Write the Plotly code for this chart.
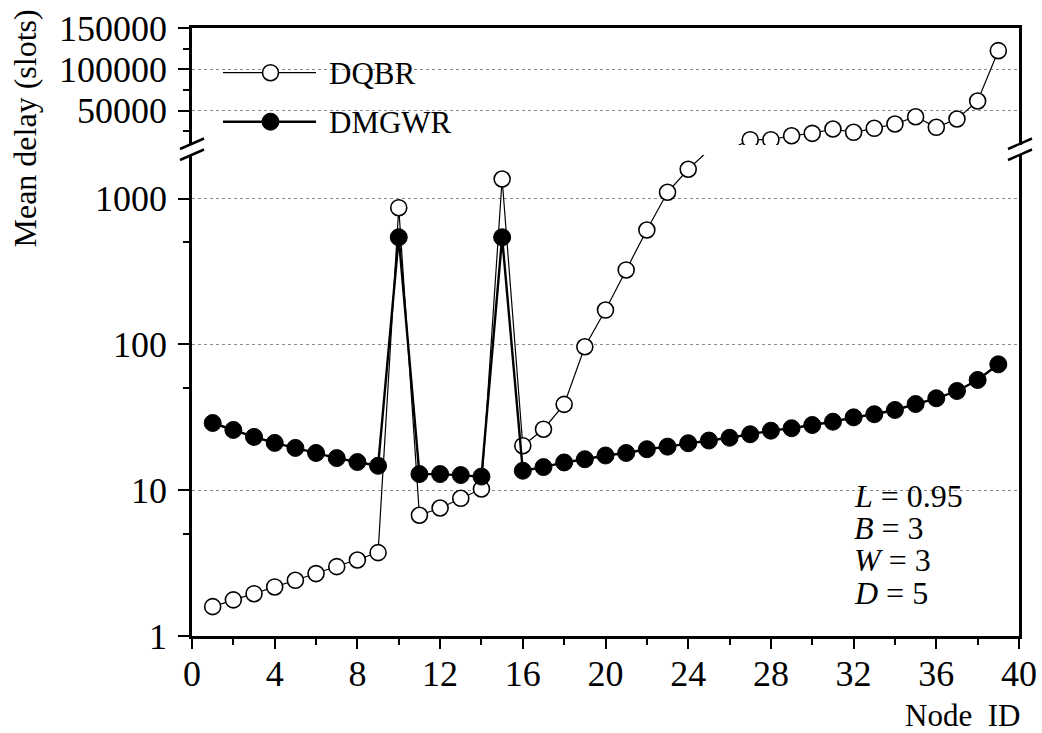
import plotly.graph_objects as go

# ---------------- data ----------------
node_ids = list(range(1, 40))
dqbr = [1.59, 1.77, 1.95, 2.17, 2.41, 2.68, 2.99, 3.32, 3.73, 866,
        6.73, 7.55, 8.80, 10.2, 1363,
        20.2, 26.2, 38.8, 96.4, 172, 324, 609, 1105, 1589, 2150, 3000,
        14900, 14900, 19700, 22600, 27850, 23850, 28700, 33900, 42700,
        29900, 39950, 61700, 122600]
dmgwr = [28.9, 25.9, 23.2, 21.1, 19.5, 18.0, 16.6, 15.6, 14.7, 543,
         12.9, 12.9, 12.7, 12.4, 543,
         13.6, 14.4, 15.5, 16.3, 17.3, 18.0, 19.1, 19.9, 21.0, 21.9, 22.9,
         24.2, 25.6, 26.6, 28.0, 29.5, 31.6, 33.2, 35.5, 39.0, 42.7, 47.9,
         57.0, 73.0]
x_ticks = list(range(0, 41, 4))
x_minor = list(range(2, 40, 4))
low_ticks = [1, 10, 100, 1000]
low_minor = [5, 50, 500]
up_ticks = [50000, 100000, 150000]
up_minor = [25000, 75000, 125000]
series_names = ["DQBR", "DMGWR"]
params = ["<i>L</i> = 0.95", "<i>B</i> = 3", "<i>W</i> = 3", "<i>D</i> = 5"]

# ---------------- geometry ----------------
W, H = 1042, 733
L, R, T, B = 192, 1019, 28, 636
LOW_TOP = 155.0
UP_BOT = 145.0
DEC_PX = 145.8
FONT = "Liberation Serif"


def px(x):
    return (x - L) / (R - L)


def py(y):
    return (B - y) / (B - T)


low_range = [0, (B - LOW_TOP) / DEC_PX]
up_range = [8500, 150000]
low_max = 10 ** low_range[1]

fig = go.Figure()

dq_line = dict(color="black", width=1.2)
dm_line = dict(color="black", width=2.4)
DQ_SIZE, DM_SIZE = 16, 17


def dq_marker(sizes):
    return dict(symbol="circle", size=sizes, color="white", opacity=1,
                line=dict(color="black", width=1.6))


def dm_marker(sizes):
    return dict(symbol="circle", size=sizes, color="black", opacity=1,
                line=dict(color="black", width=1))


# lower (log) panel
fig.add_trace(go.Scatter(
    x=node_ids, y=dqbr, mode="lines+markers", line=dq_line,
    marker=dq_marker([DQ_SIZE if v <= low_max else 0 for v in dqbr]),
    xaxis="x", yaxis="y", showlegend=False, name=series_names[0]))
fig.add_trace(go.Scatter(
    x=node_ids, y=dmgwr, mode="lines+markers", line=dm_line,
    marker=dm_marker([DM_SIZE if v <= low_max else 0 for v in dmgwr]),
    xaxis="x", yaxis="y", showlegend=False, name=series_names[1]))
# upper (linear) panel
fig.add_trace(go.Scatter(
    x=node_ids, y=dqbr, mode="lines+markers", line=dq_line,
    marker=dq_marker([DQ_SIZE if v >= up_range[0] else 0 for v in dqbr]),
    xaxis="x2", yaxis="y2", showlegend=False, name=series_names[0]))

# manual legend on an overlay pixel axis
leg_y = [72.7, 121.7]
for i, (ln, mk) in enumerate([(dq_line, dq_marker(DQ_SIZE)),
                              (dm_line, dm_marker(DM_SIZE))]):
    fig.add_trace(go.Scatter(x=[223, 316], y=[leg_y[i]] * 2, mode="lines",
                             line=ln, xaxis="x3", yaxis="y3",
                             showlegend=False, hoverinfo="skip"))
    fig.add_trace(go.Scatter(x=[270.5], y=[leg_y[i]], mode="markers",
                             marker=mk, xaxis="x3", yaxis="y3",
                             showlegend=False, hoverinfo="skip"))

axis_common = dict(showline=True, linecolor="black", linewidth=2.5,
                   zeroline=False, ticks="outside", tickcolor="black",
                   tickwidth=2, automargin=False,
                   tickfont=dict(family=FONT, size=36, color="black"))

fig.update_layout(
    width=W, height=H, autosize=False,
    margin=dict(l=L, r=W - R, t=T, b=H - B, pad=0, autoexpand=False),
    paper_bgcolor="white", plot_bgcolor="rgba(0,0,0,0)",
    showlegend=False,
    xaxis=dict(domain=[0, 1], range=[0, 40], anchor="y",
               tickvals=x_ticks, ticktext=[str(v) for v in x_ticks],
               ticklen=10, showgrid=False, ticklabelstandoff=-6,
               minor=dict(tickvals=x_minor, ticklen=6, tickwidth=2,
                          ticks="outside", tickcolor="black",
                          showgrid=False),
               **axis_common),
    xaxis2=dict(domain=[0, 1], range=[0, 40], anchor="y2", side="top",
                showline=True, linecolor="black", linewidth=2.5,
                ticks="", showticklabels=False, showgrid=False,
                zeroline=False, automargin=False),
    yaxis=dict(domain=[0, py(LOW_TOP)], type="log", range=low_range,
               anchor="x", tickvals=low_ticks,
               ticktext=[str(v) for v in low_ticks], ticklen=11,
               ticklabelstandoff=4,
               mirror=True, showgrid=True, gridcolor="#8a8a8a",
               griddash="dot", gridwidth=1,
               minor=dict(tickvals=low_minor, ticklen=6, tickwidth=2,
                          ticks="outside", tickcolor="black",
                          showgrid=False),
               **axis_common),
    yaxis2=dict(domain=[py(UP_BOT), 1], range=up_range, anchor="x2",
                tickvals=up_ticks, ticktext=[str(v) for v in up_ticks],
                ticklen=11, ticklabelstandoff=4,
                mirror=True, showgrid=True,
                gridcolor="#8a8a8a", griddash="dot", gridwidth=1,
                minor=dict(tickvals=up_minor, ticklen=6, tickwidth=2,
                           ticks="outside", tickcolor="black",
                           showgrid=False),
                **axis_common),
    xaxis3=dict(domain=[0, 1], range=[L, R], anchor="y3", visible=False,
                fixedrange=True),
    yaxis3=dict(domain=[0, 1], range=[B, T], anchor="x3", visible=False,
                fixedrange=True),
)

shapes = []
# blank the gap between the two panels
shapes.append(dict(type="rect", xref="paper", yref="paper", layer="above",
                   x0=px(L + 1.5), x1=px(R - 1.5), y0=py(UP_BOT + 0.2),
                   y1=py(LOW_TOP - 0.2), fillcolor="white",
                   line=dict(width=0)))
# axis break marks
for (x0, x1) in [(180, 204), (1008, 1032)]:
    for (y0, y1) in [(149, 138.5), (160, 149.5)]:
        shapes.append(dict(type="line", xref="paper", yref="paper",
                           layer="above",
                           x0=px(x0), y0=py(y0), x1=px(x1), y1=py(y1),
                           line=dict(color="black", width=2.5)))
fig.update_layout(shapes=shapes)

ann = []
# legend labels
for i, name in enumerate(series_names):
    ann.append(dict(x=px(327), y=py(leg_y[i] + 1), xref="paper", yref="paper",
                    text=name, showarrow=False, xanchor="left",
                    yanchor="middle",
                    font=dict(family=FONT, size=31, color="black")))
# parameter block
for i, t in enumerate(params):
    ann.append(dict(x=px(852), y=py(496 + 32.2 * i), xref="paper",
                    yref="paper", text=t, showarrow=False, xanchor="left",
                    yanchor="middle",
                    font=dict(family=FONT, size=32, color="black")))
# axis titles
ann.append(dict(x=px(24), y=py(128.5), xref="paper", yref="paper",
                text="Mean delay (slots)", textangle=-90, showarrow=False,
                xanchor="center", yanchor="middle",
                font=dict(family=FONT, size=32, color="black")))
ann.append(dict(x=px(962), y=py(715), xref="paper", yref="paper",
                text="Node\u00a0\u00a0ID", showarrow=False,
                xanchor="center", yanchor="middle",
                font=dict(family=FONT, size=31, color="black")))
fig.update_layout(annotations=ann)

fig.write_html("out.html",
               config={"displayModeBar": False, "responsive": False},
               post_script="document.body.style.margin='0';"
                           "document.body.style.overflow='hidden';")
